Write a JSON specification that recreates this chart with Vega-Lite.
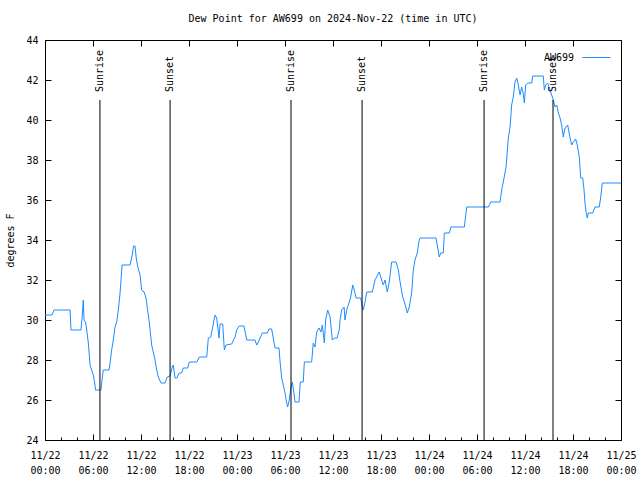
{
  "$schema": "https://vega.github.io/schema/vega-lite/v6.json",
  "width": 576,
  "height": 400,
  "autosize": "none",
  "padding": {"left": 45, "top": 40, "right": 19, "bottom": 40},
  "background": "white",
  "config": {
    "view": {"stroke": "black", "strokeWidth": 1},
    "font": "DejaVu Sans Mono",
    "axis": {"grid": false, "domain": false, "tickColor": "black", "labelColor": "black", "labelFont": "DejaVu Sans Mono", "labelFontSize": 10, "titleFont": "DejaVu Sans Mono", "titleFontSize": 10, "titleFontWeight": "normal", "titleColor": "black"}
  },
  "title": {"text": "Dew Point for AW699 on 2024-Nov-22 (time in UTC)", "font": "DejaVu Sans Mono", "fontSize": 10, "fontWeight": "normal", "color": "black", "anchor": "middle", "offset": 11},
  "datasets": {
    "dew": [
      {"t": "2024-11-22T00:00:00Z", "v": 30.25}, {"t": "2024-11-22T00:52:00Z", "v": 30.25}, {"t": "2024-11-22T01:08:00Z", "v": 30.5}, {"t": "2024-11-22T03:08:00Z", "v": 30.5},
      {"t": "2024-11-22T03:15:00Z", "v": 29.5}, {"t": "2024-11-22T04:30:00Z", "v": 29.5}, {"t": "2024-11-22T04:38:00Z", "v": 30.1}, {"t": "2024-11-22T04:47:00Z", "v": 31.0},
      {"t": "2024-11-22T04:53:00Z", "v": 30.0}, {"t": "2024-11-22T05:04:00Z", "v": 29.9}, {"t": "2024-11-22T05:13:00Z", "v": 29.5}, {"t": "2024-11-22T05:25:00Z", "v": 28.85},
      {"t": "2024-11-22T05:38:00Z", "v": 27.75}, {"t": "2024-11-22T05:50:00Z", "v": 27.5}, {"t": "2024-11-22T06:02:00Z", "v": 27.25}, {"t": "2024-11-22T06:15:00Z", "v": 26.75},
      {"t": "2024-11-22T06:19:00Z", "v": 26.5}, {"t": "2024-11-22T07:00:00Z", "v": 26.5}, {"t": "2024-11-22T07:05:00Z", "v": 26.85}, {"t": "2024-11-22T07:17:00Z", "v": 27.5},
      {"t": "2024-11-22T08:00:00Z", "v": 27.5}, {"t": "2024-11-22T08:08:00Z", "v": 27.85}, {"t": "2024-11-22T08:20:00Z", "v": 28.5}, {"t": "2024-11-22T08:32:00Z", "v": 29.0},
      {"t": "2024-11-22T08:45:00Z", "v": 29.65}, {"t": "2024-11-22T08:58:00Z", "v": 29.9}, {"t": "2024-11-22T09:10:00Z", "v": 30.5}, {"t": "2024-11-22T09:23:00Z", "v": 31.35},
      {"t": "2024-11-22T09:38:00Z", "v": 32.75}, {"t": "2024-11-22T10:38:00Z", "v": 32.75}, {"t": "2024-11-22T10:53:00Z", "v": 33.2}, {"t": "2024-11-22T11:04:00Z", "v": 33.7},
      {"t": "2024-11-22T11:15:00Z", "v": 33.7}, {"t": "2024-11-22T11:26:00Z", "v": 33.0}, {"t": "2024-11-22T11:38:00Z", "v": 32.6}, {"t": "2024-11-22T11:53:00Z", "v": 32.25},
      {"t": "2024-11-22T12:05:00Z", "v": 31.5}, {"t": "2024-11-22T12:23:00Z", "v": 31.4}, {"t": "2024-11-22T12:38:00Z", "v": 31.1}, {"t": "2024-11-22T12:47:00Z", "v": 30.6},
      {"t": "2024-11-22T13:00:00Z", "v": 30.0}, {"t": "2024-11-22T13:20:00Z", "v": 28.75}, {"t": "2024-11-22T13:32:00Z", "v": 28.4}, {"t": "2024-11-22T13:45:00Z", "v": 28.0},
      {"t": "2024-11-22T13:58:00Z", "v": 27.5}, {"t": "2024-11-22T14:10:00Z", "v": 27.15}, {"t": "2024-11-22T14:30:00Z", "v": 26.85}, {"t": "2024-11-22T15:00:00Z", "v": 26.85},
      {"t": "2024-11-22T15:17:00Z", "v": 27.15}, {"t": "2024-11-22T15:38:00Z", "v": 27.2}, {"t": "2024-11-22T15:55:00Z", "v": 27.65}, {"t": "2024-11-22T16:02:00Z", "v": 27.75},
      {"t": "2024-11-22T16:15:00Z", "v": 27.1}, {"t": "2024-11-22T16:28:00Z", "v": 27.1}, {"t": "2024-11-22T16:47:00Z", "v": 27.35}, {"t": "2024-11-22T17:05:00Z", "v": 27.35},
      {"t": "2024-11-22T17:17:00Z", "v": 27.6}, {"t": "2024-11-22T17:50:00Z", "v": 27.6}, {"t": "2024-11-22T18:02:00Z", "v": 27.9}, {"t": "2024-11-22T18:58:00Z", "v": 27.9},
      {"t": "2024-11-22T19:17:00Z", "v": 28.15}, {"t": "2024-11-22T20:13:00Z", "v": 28.15}, {"t": "2024-11-22T20:25:00Z", "v": 29.1}, {"t": "2024-11-22T20:43:00Z", "v": 29.15},
      {"t": "2024-11-22T20:58:00Z", "v": 29.65}, {"t": "2024-11-22T21:15:00Z", "v": 30.25}, {"t": "2024-11-22T21:28:00Z", "v": 30.1}, {"t": "2024-11-22T21:45:00Z", "v": 29.1},
      {"t": "2024-11-22T21:53:00Z", "v": 29.8}, {"t": "2024-11-22T22:13:00Z", "v": 29.8}, {"t": "2024-11-22T22:25:00Z", "v": 28.5}, {"t": "2024-11-22T22:38:00Z", "v": 28.75},
      {"t": "2024-11-22T23:20:00Z", "v": 28.8}, {"t": "2024-11-22T23:45:00Z", "v": 29.15}, {"t": "2024-11-22T23:58:00Z", "v": 29.5},
      {"t": "2024-11-23T00:17:00Z", "v": 29.7}, {"t": "2024-11-23T00:52:00Z", "v": 29.7}, {"t": "2024-11-23T01:13:00Z", "v": 29.0}, {"t": "2024-11-23T02:15:00Z", "v": 29.0},
      {"t": "2024-11-23T02:28:00Z", "v": 28.75}, {"t": "2024-11-23T02:40:00Z", "v": 28.9}, {"t": "2024-11-23T03:10:00Z", "v": 29.35}, {"t": "2024-11-23T03:47:00Z", "v": 29.35},
      {"t": "2024-11-23T04:00:00Z", "v": 29.55}, {"t": "2024-11-23T04:20:00Z", "v": 29.55}, {"t": "2024-11-23T04:45:00Z", "v": 28.6}, {"t": "2024-11-23T05:15:00Z", "v": 28.6},
      {"t": "2024-11-23T05:22:00Z", "v": 28.0}, {"t": "2024-11-23T05:35:00Z", "v": 27.1}, {"t": "2024-11-23T05:47:00Z", "v": 26.75}, {"t": "2024-11-23T06:00:00Z", "v": 26.35},
      {"t": "2024-11-23T06:13:00Z", "v": 25.85}, {"t": "2024-11-23T06:20:00Z", "v": 25.65}, {"t": "2024-11-23T06:32:00Z", "v": 26.0}, {"t": "2024-11-23T06:45:00Z", "v": 26.65},
      {"t": "2024-11-23T06:55:00Z", "v": 26.9}, {"t": "2024-11-23T07:07:00Z", "v": 26.35}, {"t": "2024-11-23T07:15:00Z", "v": 25.9}, {"t": "2024-11-23T07:45:00Z", "v": 25.9},
      {"t": "2024-11-23T07:55:00Z", "v": 26.9}, {"t": "2024-11-23T08:17:00Z", "v": 26.9}, {"t": "2024-11-23T08:25:00Z", "v": 27.9}, {"t": "2024-11-23T09:20:00Z", "v": 27.9},
      {"t": "2024-11-23T09:32:00Z", "v": 28.85}, {"t": "2024-11-23T09:45:00Z", "v": 28.65}, {"t": "2024-11-23T09:58:00Z", "v": 29.4}, {"t": "2024-11-23T10:15:00Z", "v": 29.6},
      {"t": "2024-11-23T10:30:00Z", "v": 29.4}, {"t": "2024-11-23T10:40:00Z", "v": 29.75}, {"t": "2024-11-23T10:55:00Z", "v": 28.85}, {"t": "2024-11-23T11:05:00Z", "v": 30.0},
      {"t": "2024-11-23T11:20:00Z", "v": 30.5}, {"t": "2024-11-23T11:38:00Z", "v": 30.15}, {"t": "2024-11-23T11:55:00Z", "v": 29.0}, {"t": "2024-11-23T12:10:00Z", "v": 29.1},
      {"t": "2024-11-23T12:30:00Z", "v": 29.1}, {"t": "2024-11-23T12:47:00Z", "v": 29.5}, {"t": "2024-11-23T12:53:00Z", "v": 30.0}, {"t": "2024-11-23T13:05:00Z", "v": 30.5},
      {"t": "2024-11-23T13:23:00Z", "v": 30.65}, {"t": "2024-11-23T13:30:00Z", "v": 30.0}, {"t": "2024-11-23T13:43:00Z", "v": 30.5}, {"t": "2024-11-23T13:55:00Z", "v": 30.75},
      {"t": "2024-11-23T14:13:00Z", "v": 31.15}, {"t": "2024-11-23T14:28:00Z", "v": 31.75}, {"t": "2024-11-23T14:45:00Z", "v": 31.35}, {"t": "2024-11-23T14:53:00Z", "v": 31.1},
      {"t": "2024-11-23T15:28:00Z", "v": 31.1}, {"t": "2024-11-23T15:40:00Z", "v": 30.65}, {"t": "2024-11-23T15:47:00Z", "v": 30.5}, {"t": "2024-11-23T16:00:00Z", "v": 30.9},
      {"t": "2024-11-23T16:13:00Z", "v": 31.4}, {"t": "2024-11-23T16:55:00Z", "v": 31.4}, {"t": "2024-11-23T17:15:00Z", "v": 32.0}, {"t": "2024-11-23T17:47:00Z", "v": 32.4},
      {"t": "2024-11-23T18:05:00Z", "v": 32.0}, {"t": "2024-11-23T18:17:00Z", "v": 31.75}, {"t": "2024-11-23T18:30:00Z", "v": 32.0}, {"t": "2024-11-23T18:47:00Z", "v": 31.4},
      {"t": "2024-11-23T19:02:00Z", "v": 31.9}, {"t": "2024-11-23T19:20:00Z", "v": 32.9}, {"t": "2024-11-23T19:53:00Z", "v": 32.9}, {"t": "2024-11-23T20:10:00Z", "v": 32.5},
      {"t": "2024-11-23T20:23:00Z", "v": 31.9}, {"t": "2024-11-23T20:43:00Z", "v": 31.15}, {"t": "2024-11-23T21:00:00Z", "v": 30.8}, {"t": "2024-11-23T21:17:00Z", "v": 30.35},
      {"t": "2024-11-23T21:32:00Z", "v": 30.65}, {"t": "2024-11-23T21:50:00Z", "v": 31.35}, {"t": "2024-11-23T22:02:00Z", "v": 32.5}, {"t": "2024-11-23T22:15:00Z", "v": 33.0},
      {"t": "2024-11-23T22:32:00Z", "v": 33.35}, {"t": "2024-11-23T22:47:00Z", "v": 34.0}, {"t": "2024-11-23T22:53:00Z", "v": 34.1},
      {"t": "2024-11-24T00:53:00Z", "v": 34.1}, {"t": "2024-11-24T01:17:00Z", "v": 33.15}, {"t": "2024-11-24T01:28:00Z", "v": 33.35}, {"t": "2024-11-24T01:47:00Z", "v": 33.35},
      {"t": "2024-11-24T01:55:00Z", "v": 34.35}, {"t": "2024-11-24T02:32:00Z", "v": 34.35}, {"t": "2024-11-24T02:45:00Z", "v": 34.65}, {"t": "2024-11-24T04:25:00Z", "v": 34.65},
      {"t": "2024-11-24T04:43:00Z", "v": 35.65}, {"t": "2024-11-24T07:25:00Z", "v": 35.65}, {"t": "2024-11-24T07:43:00Z", "v": 35.9}, {"t": "2024-11-24T08:53:00Z", "v": 35.9},
      {"t": "2024-11-24T09:05:00Z", "v": 36.5}, {"t": "2024-11-24T09:17:00Z", "v": 36.9}, {"t": "2024-11-24T09:38:00Z", "v": 37.65}, {"t": "2024-11-24T09:55:00Z", "v": 39.1},
      {"t": "2024-11-24T10:08:00Z", "v": 39.65}, {"t": "2024-11-24T10:20:00Z", "v": 40.75}, {"t": "2024-11-24T10:32:00Z", "v": 41.15}, {"t": "2024-11-24T10:45:00Z", "v": 41.9},
      {"t": "2024-11-24T10:58:00Z", "v": 42.1}, {"t": "2024-11-24T11:10:00Z", "v": 41.75}, {"t": "2024-11-24T11:23:00Z", "v": 41.25}, {"t": "2024-11-24T11:35:00Z", "v": 41.65},
      {"t": "2024-11-24T11:47:00Z", "v": 41.3}, {"t": "2024-11-24T11:55:00Z", "v": 40.85}, {"t": "2024-11-24T12:05:00Z", "v": 41.75}, {"t": "2024-11-24T12:20:00Z", "v": 41.85},
      {"t": "2024-11-24T12:50:00Z", "v": 41.85}, {"t": "2024-11-24T12:58:00Z", "v": 42.2}, {"t": "2024-11-24T14:17:00Z", "v": 42.2}, {"t": "2024-11-24T14:25:00Z", "v": 41.5},
      {"t": "2024-11-24T14:35:00Z", "v": 41.75}, {"t": "2024-11-24T14:50:00Z", "v": 41.85}, {"t": "2024-11-24T15:02:00Z", "v": 41.6}, {"t": "2024-11-24T15:20:00Z", "v": 41.25},
      {"t": "2024-11-24T15:32:00Z", "v": 41.0}, {"t": "2024-11-24T15:45:00Z", "v": 40.65}, {"t": "2024-11-24T15:58:00Z", "v": 40.75}, {"t": "2024-11-24T16:10:00Z", "v": 40.35},
      {"t": "2024-11-24T16:23:00Z", "v": 40.1}, {"t": "2024-11-24T16:35:00Z", "v": 39.75}, {"t": "2024-11-24T16:47:00Z", "v": 39.15}, {"t": "2024-11-24T17:00:00Z", "v": 39.6},
      {"t": "2024-11-24T17:20:00Z", "v": 39.75}, {"t": "2024-11-24T17:38:00Z", "v": 39.1}, {"t": "2024-11-24T17:50:00Z", "v": 38.75}, {"t": "2024-11-24T18:02:00Z", "v": 38.9},
      {"t": "2024-11-24T18:20:00Z", "v": 39.05}, {"t": "2024-11-24T18:32:00Z", "v": 38.75}, {"t": "2024-11-24T18:47:00Z", "v": 38.15}, {"t": "2024-11-24T18:58:00Z", "v": 37.1},
      {"t": "2024-11-24T19:13:00Z", "v": 37.1}, {"t": "2024-11-24T19:23:00Z", "v": 36.5}, {"t": "2024-11-24T19:30:00Z", "v": 35.85}, {"t": "2024-11-24T19:38:00Z", "v": 35.4},
      {"t": "2024-11-24T19:47:00Z", "v": 35.1}, {"t": "2024-11-24T19:55:00Z", "v": 35.35}, {"t": "2024-11-24T20:28:00Z", "v": 35.35}, {"t": "2024-11-24T20:45:00Z", "v": 35.65},
      {"t": "2024-11-24T21:17:00Z", "v": 35.65}, {"t": "2024-11-24T21:28:00Z", "v": 36.15}, {"t": "2024-11-24T21:40:00Z", "v": 36.85}, {"t": "2024-11-25T00:00:00Z", "v": 36.85}
    ],
    "sun": [
      {"t": "2024-11-22T06:52:00Z", "label": "Sunrise"},
      {"t": "2024-11-22T15:38:00Z", "label": "Sunset"},
      {"t": "2024-11-23T06:45:00Z", "label": "Sunrise"},
      {"t": "2024-11-23T15:38:00Z", "label": "Sunset"},
      {"t": "2024-11-24T06:53:00Z", "label": "Sunrise"},
      {"t": "2024-11-24T15:30:00Z", "label": "Sunset"}
    ]
  },
  "layer": [
    {
      "data": {"name": "dew"},
      "mark": {"type": "line", "strokeWidth": 1, "interpolate": "linear"},
      "encoding": {
        "x": {
          "field": "t", "type": "temporal",
          "scale": {"type": "utc", "nice": false, "domain": [1732233600000, 1732492800000]},
          "axis": {
            "orient": "bottom", "title": null,
            "values": [1732233600000, 1732255200000, 1732276800000, 1732298400000, 1732320000000, 1732341600000, 1732363200000, 1732384800000, 1732406400000, 1732428000000, 1732449600000, 1732471200000, 1732492800000],
            "labelExpr": "[utcFormat(datum.value, '%m/%d'), utcFormat(datum.value, '%H:%M')]",
            "labelOverlap": false, "labelFlush": false, "labelBaseline": "top", "labelLineHeight": 15, "labelPadding": 16,
            "tickSize": -6
          }
        },
        "y": {
          "field": "v", "type": "quantitative",
          "scale": {"domain": [24, 44], "nice": false, "zero": false},
          "axis": {
            "orient": "left", "values": [24, 26, 28, 30, 32, 34, 36, 38, 40, 42, 44], "labelOverlap": false, "tickSize": -6, "labelPadding": 13,
            "title": "degrees F", "titleAngle": 270, "titleX": -35, "titleY": 200, "titleAlign": "center", "titleBaseline": "middle"
          }
        },
        "color": {
          "datum": "AW699", "type": "nominal",
          "scale": {"range": ["#1a8cff"]},
          "legend": {"orient": "none", "legendX": 537, "legendY": 3, "title": null, "padding": 0, "symbolType": "stroke", "symbolSize": 784, "symbolStrokeWidth": 1, "labelAlign": "right", "labelOffset": -37, "labelFont": "DejaVu Sans Mono", "labelFontSize": 10, "labelColor": "black"}
        }
      }
    },
    {
      "data": {"name": "sun"},
      "mark": {"type": "rule", "color": "black", "strokeWidth": 1},
      "encoding": {
        "x": {
          "field": "t", "type": "temporal",
          "axis": {"orient": "top", "title": null, "labels": false, "tickSize": -6,
            "values": [1732233600000, 1732255200000, 1732276800000, 1732298400000, 1732320000000, 1732341600000, 1732363200000, 1732384800000, 1732406400000, 1732428000000, 1732449600000, 1732471200000, 1732492800000]}
        },
        "y": {"datum": 41, "type": "quantitative", "axis": {"orient": "right", "title": null, "labels": false, "values": [24, 26, 28, 30, 32, 34, 36, 38, 40, 42, 44], "tickSize": -6}},
        "y2": {"datum": 24}
      }
    },
    {
      "data": {"name": "sun"},
      "mark": {"type": "text", "angle": 270, "align": "left", "baseline": "middle", "dx": 8, "font": "DejaVu Sans Mono", "fontSize": 10, "color": "black"},
      "encoding": {
        "x": {"field": "t", "type": "temporal", "axis": {"orient": "bottom", "title": null, "labels": false, "tickSize": -3,
          "values": [1732233600000, 1732240800000, 1732248000000, 1732255200000, 1732262400000, 1732269600000, 1732276800000, 1732284000000, 1732291200000, 1732298400000, 1732305600000, 1732312800000, 1732320000000, 1732327200000, 1732334400000, 1732341600000, 1732348800000, 1732356000000, 1732363200000, 1732370400000, 1732377600000, 1732384800000, 1732392000000, 1732399200000, 1732406400000, 1732413600000, 1732420800000, 1732428000000, 1732435200000, 1732442400000, 1732449600000, 1732456800000, 1732464000000, 1732471200000, 1732478400000, 1732485600000, 1732492800000]}},
        "y": {"datum": 41, "type": "quantitative", "axis": null},
        "text": {"field": "label"}
      }
    }
  ],
  "resolve": {"axis": {"x": "independent", "y": "independent"}}
}
